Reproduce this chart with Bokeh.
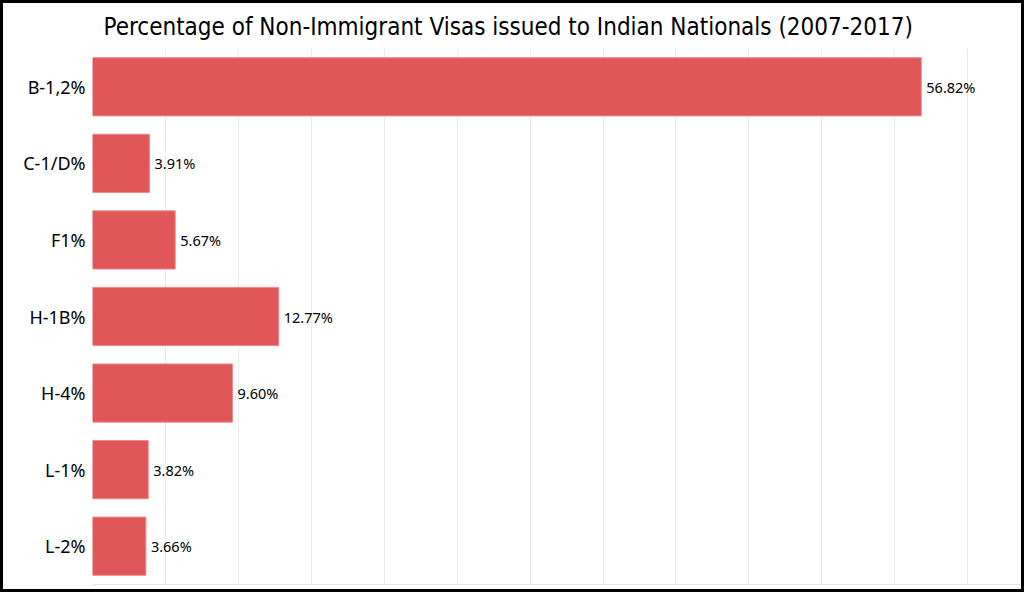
from bokeh.plotting import figure
from bokeh.models import FixedTicker, ColumnDataSource
from bokeh.core.properties import value
from bokeh.embed import file_html
from bokeh.resources import INLINE

categories = ["B-1,2%", "C-1/D%", "F1%", "H-1B%", "H-4%", "L-1%", "L-2%"]
shares = [56.82, 3.91, 5.67, 12.77, 9.60, 3.82, 3.66]
labels = ["%.2f%%" % v for v in shares]
grid_ticks = [0, 5, 10, 15, 20, 25, 30, 35, 40, 45, 50, 55, 60]

src = ColumnDataSource(dict(cat=categories, val=shares, lab=labels))

p = figure(width=1024, height=592, output_backend="svg", toolbar_location=None,
           y_range=list(reversed(categories)), x_range=(0, 64.1),
           min_border_left=89, min_border_right=0, min_border_top=42, min_border_bottom=11,
           title="Percentage of Non-Immigrant Visas issued to Indian Nationals (2007-2017)")
p.styles = {"border": "3px solid black"}
p.title.align = "left"
p.title.offset = 11
p.title.text_font = "DejaVu Sans Condensed"
p.title.text_font_size = "24px"
p.title.text_font_style = "normal"
p.title.text_color = "black"
p.title.standoff = 15

p.hbar(y="cat", right="val", left=0, height=0.76, source=src,
       fill_color="#E15759", line_color="#EE8A8B", line_width=1)
p.text(x="val", y="cat", text="lab", source=src, x_offset=5,
       text_baseline="middle", text_align="left", text_font=value("Noto Sans"),
       text_font_size="14.5px", text_color="black")

p.outline_line_color = None
p.ygrid.grid_line_color = None
p.xgrid.ticker = FixedTicker(ticks=grid_ticks)
p.xgrid.grid_line_color = "#ececec"
p.xaxis.axis_line_color = "#e6e6e6"
p.xaxis.major_tick_line_color = None
p.xaxis.minor_tick_line_color = None
p.xaxis.major_label_text_font_size = "0px"
p.xaxis.ticker = FixedTicker(ticks=[])
p.yaxis.axis_line_color = None
p.yaxis.major_tick_line_color = None
p.yaxis.minor_tick_line_color = None
p.yaxis.major_label_text_font = "Noto Sans"
p.yaxis.major_label_text_font_size = "18px"
p.yaxis.major_label_text_color = "black"
p.yaxis.major_label_standoff = 1

open("out.html", "w").write(file_html(p, INLINE))
